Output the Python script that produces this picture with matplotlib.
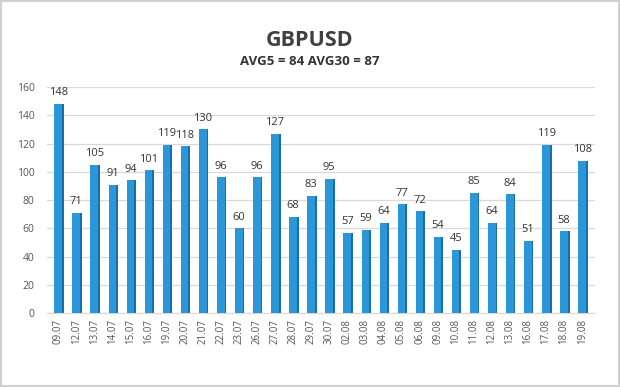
import numpy as np
import matplotlib.pyplot as plt
from matplotlib.patches import Rectangle

# データ
dates = ['09.07', '12.07', '13.07', '14.07', '15.07', '16.07', '19.07', '20.07',
         '21.07', '22.07', '23.07', '26.07', '27.07', '28.07', '29.07', '30.07',
         '02.08', '03.08', '04.08', '05.08', '06.08', '09.08', '10.08', '11.08',
         '12.08', '13.08', '16.08', '17.08', '18.08', '19.08']
values = [148, 71, 105, 91, 94, 101, 119, 118, 130, 96, 60, 96, 127, 68, 83, 95,
          57, 59, 64, 77, 72, 54, 45, 85, 64, 84, 51, 119, 58, 108]
title = 'GBPUSD'
subtitle = 'AVG5 = 84 AVG30 = 87'

plt.rcParams['font.family'] = ['Open Sans', 'DejaVu Sans']

fig = plt.figure(figsize=(6.2, 3.87), dpi=100)
fig.patch.set_facecolor('white')
# 外枠
fig.add_artist(Rectangle((0.002, 0.003), 0.996, 0.994, transform=fig.transFigure,
                         fill=False, edgecolor='#d0d0d0', linewidth=1.5))

ax = fig.add_axes([0.076, 0.191, 0.884, 0.584])
x = np.arange(len(values))

# 棒（側面を少し暗くして立体っぽく）
ax.bar(x + 0.08, values, width=0.45, color='#1a6fa8', zorder=2)
ax.bar(x, values, width=0.42, color='#2b96d8', zorder=3)

for xi, v in zip(x, values):
    ax.text(xi, v + 4, str(v), ha='center', va='bottom', fontsize=8,
            color='#333333', zorder=4)

ax.set_xlim(-0.61, 29.72)
ax.set_ylim(0, 160)
ax.set_yticks(range(0, 161, 20))
ax.set_xticks(x)
ax.set_xticklabels(dates, rotation=90, fontsize=7, color='#555555')
ax.tick_params(axis='y', labelsize=7.5, colors='#555555', length=0, pad=9)
ax.tick_params(axis='x', length=0, pad=4)
ax.grid(axis='y', color='#d9d9d9', linewidth=0.9, zorder=0)
for s in ['top', 'right', 'left']:
    ax.spines[s].set_visible(False)
ax.spines['bottom'].set_color('#d9d9d9')

fig.text(0.5, 0.895, title, ha='center', va='center', fontsize=15.5,
         fontweight='bold', color='#404040')
fig.text(0.5, 0.84, subtitle, ha='center', va='center', fontsize=9.5,
         fontweight='bold', color='#333333')

fig.savefig('out.png', dpi=100)
